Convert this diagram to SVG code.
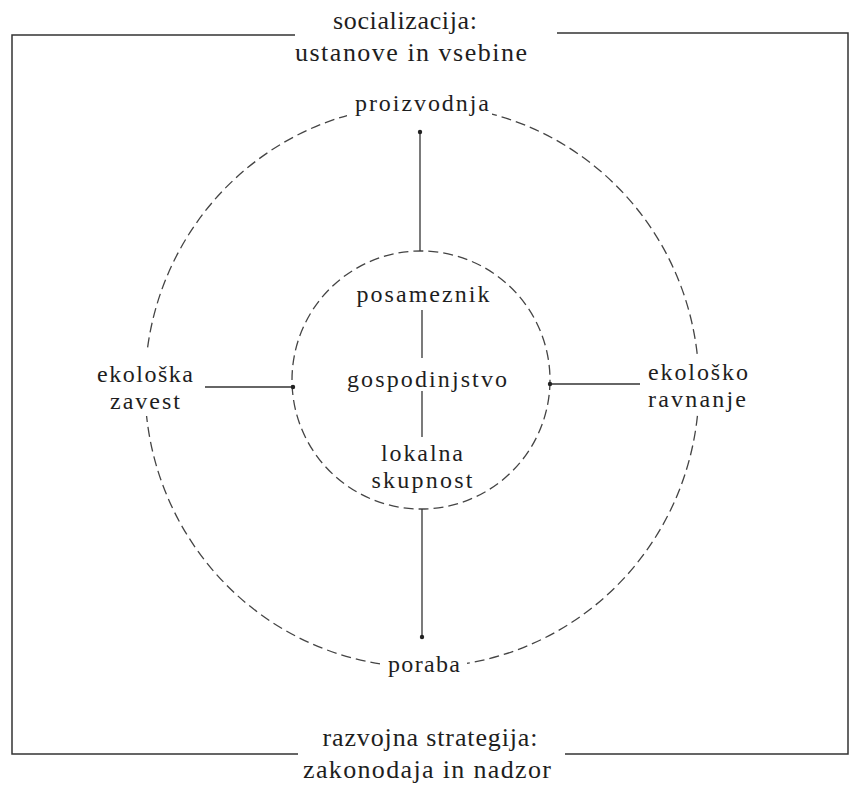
<svg xmlns="http://www.w3.org/2000/svg" width="851" height="786" viewBox="0 0 851 786">
<style>
  .frame { fill: none; stroke: #333; stroke-width: 1.5; }
  .ring { fill: none; stroke: #444; stroke-width: 1.3; stroke-dasharray: 10 5; }
  .conn { fill: none; stroke: #333; stroke-width: 1.3; }
  .bg { fill: #fff; stroke: none; }
  text { font-family: "Liberation Serif", "DejaVu Serif", serif; fill: #1e1e1e; text-anchor: middle; }
  .lbl { font-size: 24px; }
  .big { font-size: 26px; }
</style>
<defs>
  <marker id="dot" viewBox="0 0 6 6" refX="3" refY="3" markerWidth="6" markerHeight="6" markerUnits="userSpaceOnUse">
    <circle cx="3" cy="3" r="2.2" fill="#222"/>
  </marker>
</defs>
<rect width="851" height="786" fill="#fff"/>

<g id="frame">
  <path class="frame" d="M295 35 H12 V754 H298"/>
  <path class="frame" d="M557 33 H848 V754 H565"/>
</g>

<g id="outer-ring">
  <ellipse class="ring" cx="422" cy="386" rx="277" ry="281"/>
</g>
<g id="inner-ring">
  <circle class="ring" cx="421" cy="380" r="129"/>
</g>

<g id="connectors">
  <path class="conn" d="M420 251 V132" marker-end="url(#dot)"/>
  <path class="conn" d="M422 509 V637" marker-end="url(#dot)"/>
  <path class="conn" d="M205 387 H293" marker-end="url(#dot)"/>
  <path class="conn" d="M640 384 H550" marker-end="url(#dot)"/>
  <path class="conn" d="M422 310 V358"/>
  <path class="conn" d="M422 391 V437"/>
</g>

<g id="socializacija">
  <text class="big" x="405" y="29" textLength="144" lengthAdjust="spacing">socializacija:</text>
  <text class="big" x="411" y="61" textLength="232" lengthAdjust="spacing">ustanove in vsebine</text>
</g>
<g id="razvojna-strategija">
  <text class="big" x="430" y="746" textLength="215" lengthAdjust="spacing">razvojna strategija:</text>
  <text class="big" x="427" y="778" textLength="248" lengthAdjust="spacing">zakonodaja in nadzor</text>
</g>

<g id="proizvodnja">
  <rect class="bg" x="347" y="90" width="145" height="30"/>
  <text class="lbl" x="422" y="111" textLength="134" lengthAdjust="spacing">proizvodnja</text>
</g>
<g id="poraba">
  <rect class="bg" x="380" y="650" width="87" height="30"/>
  <text class="lbl" x="424" y="672" textLength="72" lengthAdjust="spacing">poraba</text>
</g>
<g id="ekoloska-zavest">
  <rect class="bg" x="92" y="352" width="108" height="64"/>
  <text class="lbl" x="145" y="382" textLength="96" lengthAdjust="spacing">ekološka</text>
  <text class="lbl" x="145" y="409" textLength="70" lengthAdjust="spacing">zavest</text>
</g>
<g id="ekolosko-ravnanje">
  <rect class="bg" x="643" y="357" width="110" height="58"/>
  <text class="lbl" x="698" y="380" textLength="100" lengthAdjust="spacing">ekološko</text>
  <text class="lbl" x="697" y="407" textLength="98" lengthAdjust="spacing">ravnanje</text>
</g>

<g id="posameznik">
  <text class="lbl" x="423" y="302" textLength="133" lengthAdjust="spacing">posameznik</text>
</g>
<g id="gospodinjstvo">
  <text class="lbl" x="427" y="387" textLength="160" lengthAdjust="spacing">gospodinjstvo</text>
</g>
<g id="lokalna-skupnost">
  <text class="lbl" x="422" y="461" textLength="82" lengthAdjust="spacing">lokalna</text>
  <text class="lbl" x="422" y="488" textLength="101" lengthAdjust="spacing">skupnost</text>
</g>
</svg>
